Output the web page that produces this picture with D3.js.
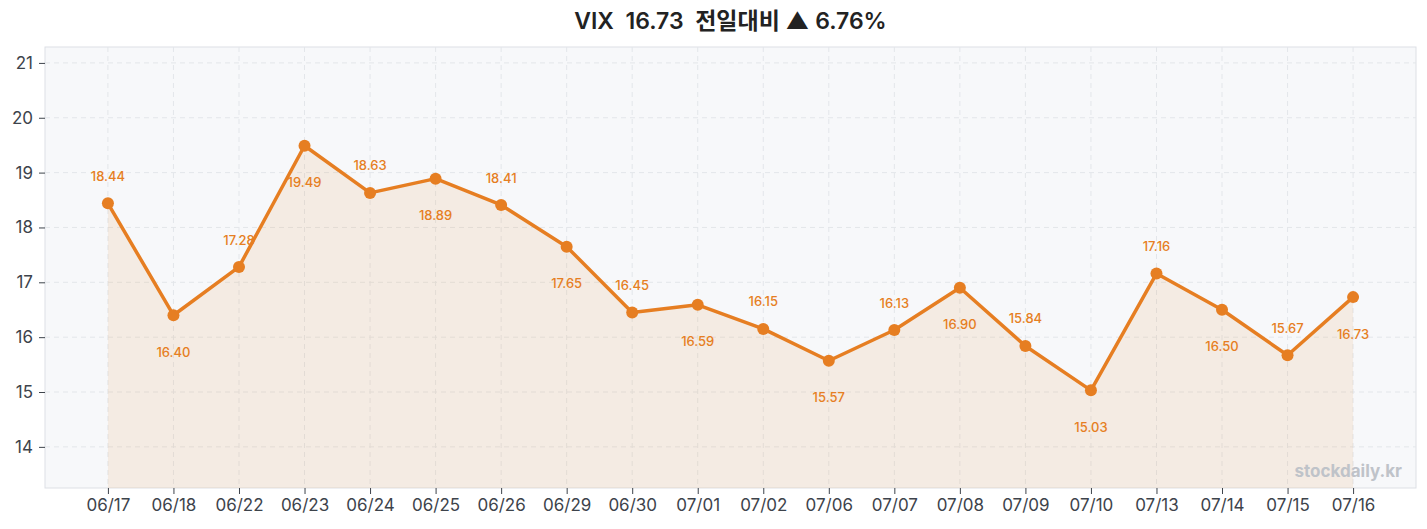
<!DOCTYPE html>
<html lang="ko">
<head>
<meta charset="UTF-8">
<title>VIX</title>
<style>
html, body { margin: 0; padding: 0; background: #fff; }
body { font-family: "Inter", "Noto Sans CJK KR", sans-serif; }
.grid line { stroke: #e3e6ea; stroke-dasharray: 5 4; }
.axis path { display: none; }
.axis text { fill: #3d434b; font-size: 17px; font-family: "Inter", "Noto Sans CJK KR", sans-serif; }
.axis line { stroke: #3d434b; }
</style>
</head>
<body>
<div id="graph"></div>
<script src="https://d3js.org/d3.v7.min.js"></script>
<script>
const dates = ["06/17","06/18","06/22","06/23","06/24","06/25","06/26","06/29","06/30","07/01",
               "07/02","07/06","07/07","07/08","07/09","07/10","07/13","07/14","07/15","07/16"];
const values = [18.44,16.40,17.28,19.49,18.63,18.89,18.41,17.65,16.45,16.59,
                16.15,15.57,16.13,16.90,15.84,15.03,17.16,16.50,15.67,16.73];
const yTicks = [14,15,16,17,18,19,20,21];
const titleText = "VIX  16.73  전일대비 ▲ 6.76%";

!(function(){
    const width = 1427, height = 529;
    const margin = {top: 47, left: 45, right: 11, bottom: 41};
    const cw = width - margin.left - margin.right;
    const ch = height - margin.top - margin.bottom;
    const orange = "#e67e22";

    const svg = d3.select("#graph").append("svg")
        .attr("width", width).attr("height", height);

    const x = d3.scalePoint().domain(dates).range([0, cw]).padding(0.96);
    const y = d3.scaleLinear().domain([13.25, 21.29]).range([ch, 0]);

    svg.append("text")
        .attr("x", margin.left + cw / 2).attr("y", 29)
        .attr("text-anchor", "middle")
        .attr("xml:space", "preserve").style("white-space", "pre")
        .style("font-size", "23px").style("font-weight", "600").style("fill", "#222")
        .text(titleText);

    const g = svg.append("g").attr("transform", `translate(${margin.left},${margin.top})`);

    g.append("rect").attr("width", cw).attr("height", ch)
        .attr("fill", "#f7f8fa").attr("stroke", "#dde0e5");

    // grid
    g.append("g").attr("class", "grid")
        .selectAll("line").data(yTicks).join("line")
        .attr("x1", 0).attr("x2", cw)
        .attr("y1", d => y(d)).attr("y2", d => y(d));
    g.append("g").attr("class", "grid")
        .selectAll("line").data(dates).join("line")
        .attr("x1", d => x(d)).attr("x2", d => x(d))
        .attr("y1", 0).attr("y2", ch);

    const data = dates.map((d, i) => ({date: d, value: values[i], i: i}));

    const area = d3.area().x(d => x(d.date)).y0(ch).y1(d => y(d.value));
    g.append("path").datum(data).attr("d", area)
        .attr("fill", orange).attr("fill-opacity", 0.1);

    const line = d3.line().x(d => x(d.date)).y(d => y(d.value));
    g.append("path").datum(data).attr("d", line)
        .attr("fill", "none").attr("stroke", orange).attr("stroke-width", 3.5)
        .attr("stroke-linejoin", "round");

    g.selectAll(".dot").data(data).join("circle").attr("class", "dot")
        .attr("cx", d => x(d.date)).attr("cy", d => y(d.value)).attr("r", 6)
        .attr("fill", orange);

    g.selectAll(".lbl").data(data).join("text").attr("class", "lbl")
        .attr("x", d => x(d.date))
        .attr("y", d => y(d.value) + (d.i % 2 === 0 ? -27 : 37))
        .attr("dy", "0.35em")
        .attr("text-anchor", "middle")
        .style("font-size", "13px").style("font-weight", "500").style("fill", orange)
        .text(d => d.value.toFixed(2));

    // axes
    g.append("g").attr("class", "axis")
        .call(d3.axisLeft(y).tickValues(yTicks).tickSize(6).tickPadding(6).tickFormat(d3.format("d")));
    g.append("g").attr("class", "axis").attr("transform", `translate(0,${ch})`)
        .call(d3.axisBottom(x).tickSize(6).tickPadding(5));

    g.append("text")
        .attr("x", cw - 14).attr("y", ch - 11)
        .attr("text-anchor", "end")
        .style("font-size", "17px").style("font-weight", "700").style("fill", "#bfc3c9")
        .text("stockdaily.kr");
}());
</script>
</body>
</html>
